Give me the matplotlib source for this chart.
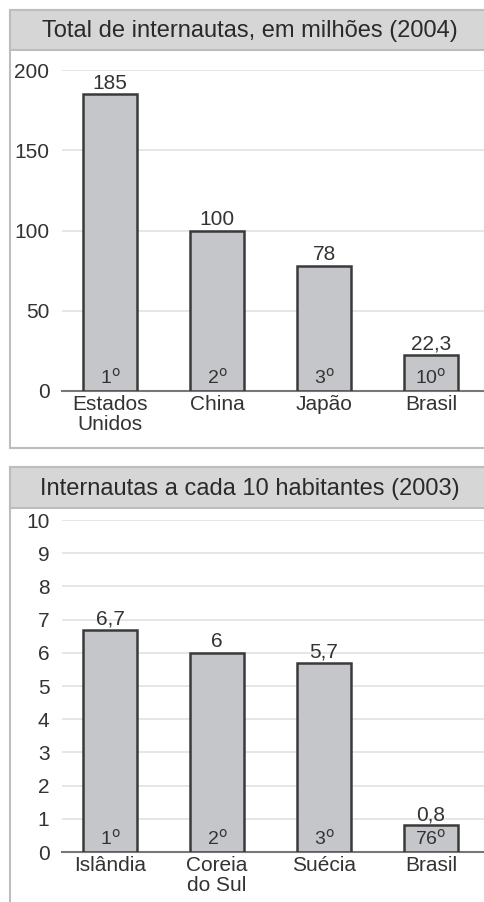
import matplotlib
matplotlib.use("Agg")
import matplotlib.pyplot as plt
from matplotlib.patches import Rectangle

plt.rcParams['font.family'] = ['Liberation Sans', 'DejaVu Sans']

# Data
top_title = "Total de internautas, em milhões (2004)"
top_categories = ["Estados\nUnidos", "China", "Japão", "Brasil"]
top_values = [185, 100, 78, 22.3]
top_value_labels = ["185", "100", "78", "22,3"]
top_ranks = ["1", "2", "3", "10"]
top_yticks = [0, 50, 100, 150, 200]

bot_title = "Internautas a cada 10 habitantes (2003)"
bot_categories = ["Islândia", "Coreia\ndo Sul", "Suécia", "Brasil"]
bot_values = [6.7, 6, 5.7, 0.8]
bot_value_labels = ["6,7", "6", "5,7", "0,8"]
bot_ranks = ["1", "2", "3", "76"]
bot_yticks = list(range(0, 11))

W, H = 484, 902
fig = plt.figure(figsize=(W / 100, H / 100), dpi=100)

def fx(px):
    return px / W

def fy(py):
    return 1 - py / H

BAR_FC = "#c5c6c9"
BAR_EC = "#3a3a3a"
TXT = "#333333"

def panel(top, bottom, band_h, title):
    fig.patches.append(Rectangle((fx(10), fy(bottom)), fx(W + 20 - 10), fy(top) - fy(bottom),
                                 transform=fig.transFigure, facecolor="white",
                                 edgecolor="#bdbdbd", linewidth=1.5, zorder=-5))
    fig.patches.append(Rectangle((fx(10), fy(top + band_h)), fx(W + 20 - 10), fy(top) - fy(top + band_h),
                                 transform=fig.transFigure, facecolor="#d6d6d6",
                                 edgecolor="#bdbdbd", linewidth=1.5, zorder=-4))
    fig.text(fx(250), fy(top + band_h / 2 + 1), title, ha="center", va="center",
             fontsize=17, color="#2a2a2a")

def draw(ax, cats, vals, vlabels, ranks, yticks, ymax, rank_y, fs):
    x = range(len(cats))
    ax.bar(x, vals, width=0.5, color=BAR_FC, edgecolor=BAR_EC, linewidth=1.8, zorder=3)
    ax.set_xlim(-0.449, 3.495)
    ax.set_ylim(0, ymax)
    ax.set_yticks(yticks)
    ax.set_yticklabels([str(t) for t in yticks], fontsize=fs, color=TXT)
    ax.set_xticks(list(x))
    ax.set_xticklabels(cats, fontsize=fs, color=TXT, linespacing=1.05)
    ax.tick_params(axis="y", length=0, pad=9)
    ax.tick_params(axis="x", length=0, pad=3)
    for s in ["top", "right", "left"]:
        ax.spines[s].set_visible(False)
    ax.spines["bottom"].set_color("#777777")
    ax.spines["bottom"].set_linewidth(1.5)
    ax.grid(axis="y", color="#e2e2e2", linewidth=1.2, zorder=0)
    ax.set_axisbelow(True)
    for i, (v, lab, r) in enumerate(zip(vals, vlabels, ranks)):
        ax.annotate(lab, (i, v), xytext=(0, 1), textcoords="offset points",
                    ha="center", va="bottom", fontsize=fs, color=TXT, annotation_clip=False)
        ax.text(i, rank_y, r + r"$^{\mathrm{o}}$", ha="center", va="bottom",
                fontsize=fs - 1, color=TXT, zorder=4)
    ax.patch.set_alpha(0)

# Top panel
panel(10, 448, 40, top_title)
ax1 = fig.add_axes([fx(62), fy(391), fx(W - 62), fy(70) - fy(391)])
ax1.set_zorder(2)
draw(ax1, top_categories, top_values, top_value_labels, top_ranks, top_yticks, 200, 2, 15)

# Bottom panel
panel(467, 920, 41, bot_title)
ax2 = fig.add_axes([fx(62), fy(852), fx(W - 62), fy(520) - fy(852)])
ax2.set_zorder(2)
draw(ax2, bot_categories, bot_values, bot_value_labels, bot_ranks, bot_yticks, 10, 0.1, 15)

fig.savefig("out.png", dpi=100)
